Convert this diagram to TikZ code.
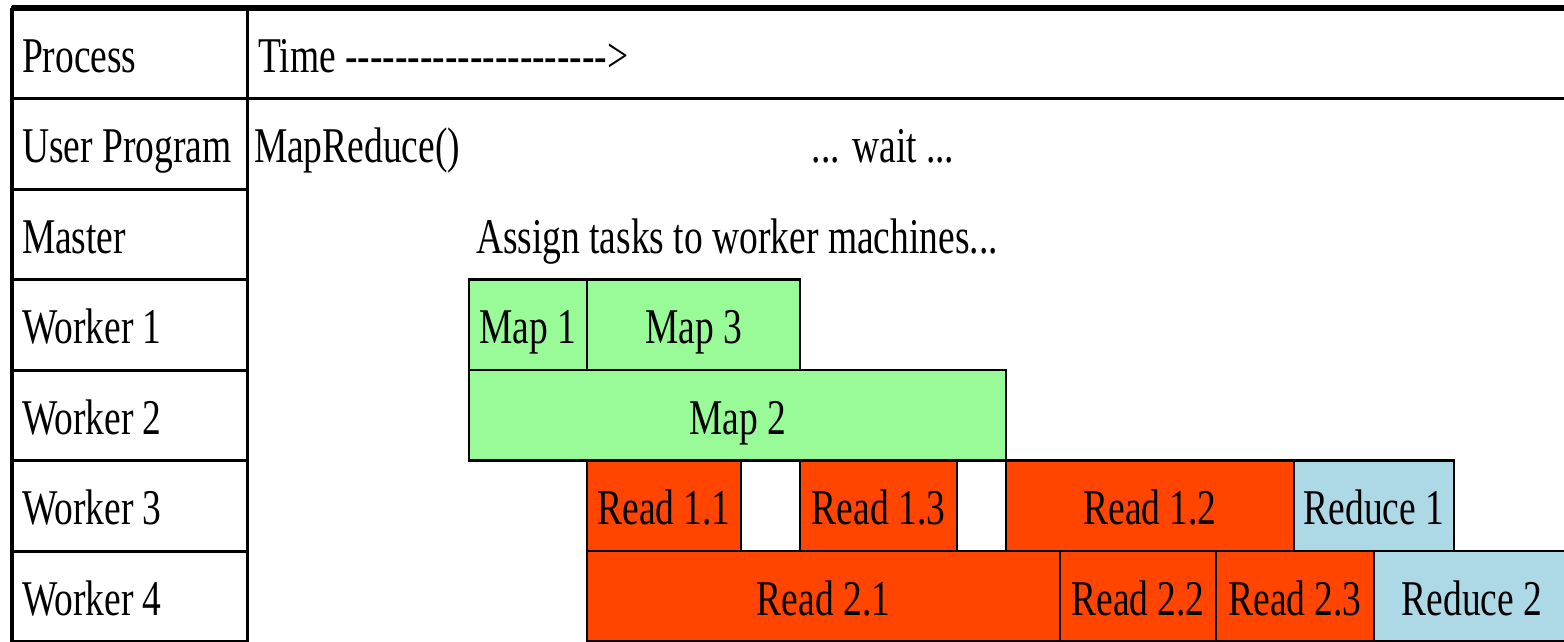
\documentclass[tikz,border=0pt]{standalone}
\usepackage{fontspec}
\setmainfont{Liberation Serif}[FakeStretch=0.75, Ligatures=TeXOff]
\usetikzlibrary{positioning}

\definecolor{mapgreen}{HTML}{98FB98}
\definecolor{readred}{HTML}{FF4500}
\definecolor{reduceblue}{HTML}{ADD8E6}

\tikzset{
  every node/.style={font=\fontsize{25pt}{30pt}\selectfont, inner sep=0pt,
    outer sep=0pt, text height=21pt, text depth=2pt},
  rowcell/.style={draw, line width=1.5pt, anchor=north west,
    minimum height=45.25pt, inner xsep=5pt},
  task/.style={draw, line width=1.2pt, minimum height=45.25pt},
  maptask/.style={task, fill=mapgreen},
  readtask/.style={task, fill=readred},
  reducetask/.style={task, fill=reduceblue},
  idle/.style={task, fill=white},
}

\begin{document}
\begin{tikzpicture}[x=0.5pt, y=-0.5pt]
    \path[use as bounding box, clip] (0,0) rectangle (1564,642);

    % Process column
    \foreach \lbl [count=\i from 0] in {Process, User Program, Master,
        Worker 1, Worker 2, Worker 3, Worker 4}
        \node[rowcell] (row\i) at (12,{8+90.5*\i}) {\makebox[107.5pt][l]{\lbl}};
    \node[rowcell, inner xsep=5.5pt] (time) at (row0.north east)
        {\makebox[660pt][l]{Time --------------------->}};

    % Frame
    \coordinate (topright) at (1580,8);
    \draw[line width=3pt] (row0.north west) -- (topright);
    \draw[line width=2pt] (row0.north west) -- (row6.south west);

    % Master and user program
    \node[anchor=base west] (call) at ([xshift=3.5pt]row1.base east) {MapReduce()};
    \node[anchor=base] (wait) at (883,0 |- row1.base) {... wait ...};
    \node[anchor=base west] (assign) at (476,0 |- row2.base) {Assign tasks to worker machines...};

    % Map phase
    \node[maptask, minimum width=59pt, anchor=north west] (map1) at (469,0 |- row3.north) {Map 1};
    \node[maptask, minimum width=106.5pt, right=0pt of map1] (map3) {Map 3};
    \node[maptask, minimum width=268.5pt, anchor=north west] (map2) at (map1.south west) {Map 2};

    % Worker 3
    \node[readtask, minimum width=77pt, anchor=north west] (read11) at (map3.west |- map2.south) {Read 1.1};
    \node[idle, minimum width=29.5pt, right=0pt of read11] (gap1) {};
    \node[readtask, minimum width=78.5pt, right=0pt of gap1] (read13) {Read 1.3};
    \node[idle, minimum width=24.5pt, right=0pt of read13] (gap2) {};
    \node[readtask, minimum width=144pt, right=0pt of gap2] (read12) {Read 1.2};
    \node[reducetask, minimum width=80pt, right=0pt of read12] (reduce1) {Reduce 1};

    % Worker 4
    \node[readtask, minimum width=236.5pt, anchor=north west] (read21) at (read11.south west) {Read 2.1};
    \node[readtask, minimum width=78pt, right=0pt of read21] (read22) {Read 2.2};
    \node[readtask, minimum width=79pt, right=0pt of read22] (read23) {Read 2.3};
    \node[reducetask, minimum width=98pt, right=0pt of read23] (reduce2) {Reduce 2};
\end{tikzpicture}
\end{document}
